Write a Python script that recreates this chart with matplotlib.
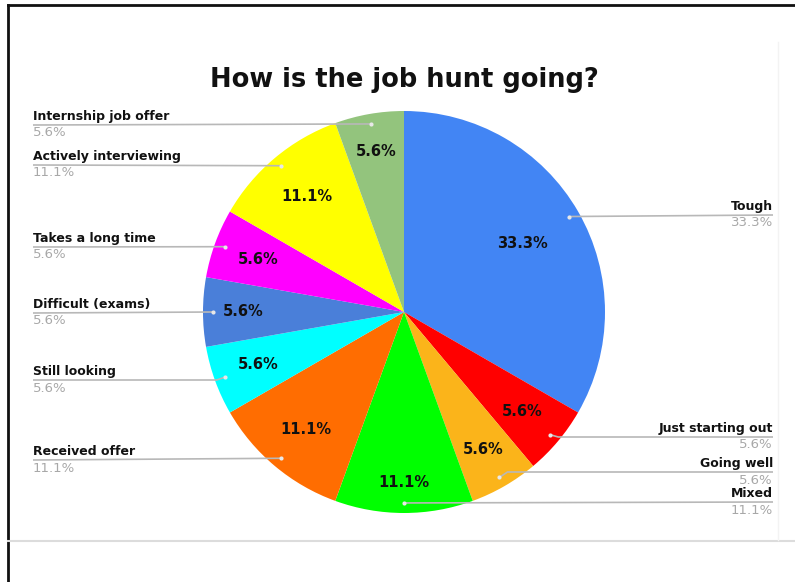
import numpy as np
import matplotlib
matplotlib.use("Agg")
import matplotlib.pyplot as plt
from matplotlib.lines import Line2D

W, H = 795, 582

# answers, in clockwise order from 12 o'clock
labels = ["Tough", "Just starting out", "Going well", "Mixed", "Received offer",
          "Still looking", "Difficult (exams)", "Takes a long time",
          "Actively interviewing", "Internship job offer"]
counts = [6, 1, 1, 2, 2, 1, 1, 1, 2, 1]
colors = ["#4285f4", "#ff0000", "#fbb41a", "#00ff00", "#ff6d01",
          "#00ffff", "#4a7fd9", "#ff00ff", "#ffff00", "#93c47d"]

# outside label layout: side and pixel row of the leader line
label_side = ["right"] * 4 + ["left"] * 6
label_line_y = [215, 437, 472, 502, 460, 380, 313, 247, 165, 125]
pct_dist = [0.68, 0.77, 0.79, 0.85, 0.76, 0.77, 0.80, 0.77, 0.75, 0.81]

cx, cy, r = 404, 312, 201
left_x, right_x = 33, 773


def Y(y):
    # pixel row (from top) -> data y
    return H - y


fig = plt.figure(figsize=(W / 100, H / 100), dpi=100)
ax = fig.add_axes([0, 0, 1, 1])

wedges, _ = ax.pie(counts, colors=colors, startangle=90, counterclock=False,
                   center=(cx, Y(cy)), radius=r,
                   wedgeprops=dict(linewidth=0))
ax.set_xlim(0, W)
ax.set_ylim(0, H)
ax.set_aspect("equal")
ax.axis("off")

total = sum(counts)
font = "DejaVu Sans"

for i, w in enumerate(wedges):
    mid = np.deg2rad((w.theta1 + w.theta2) / 2)
    pct = counts[i] / total * 100
    txt = f"{pct:.1f}%"

    # value inside the slice
    d = pct_dist[i] * r
    ax.text(cx + d * np.cos(mid), Y(cy) + d * np.sin(mid), txt,
            ha="center", va="center", fontsize=10.5, fontweight="bold",
            family=font, color="#111111")

    # leader anchor inside the slice
    ax_x = cx + 0.95 * r * np.cos(mid)
    ax_y = Y(cy) + 0.95 * r * np.sin(mid)
    ly = Y(label_line_y[i])
    bend = abs(ly - ax_y) > 2
    if label_side[i] == "right":
        xs = [ax_x, ax_x + 8, right_x] if bend else [ax_x, right_x]
        ys = [ax_y, ly, ly] if bend else [ax_y, ly]
        tx, ha = right_x, "right"
    else:
        xs = [left_x, ax_x - 8, ax_x] if bend else [left_x, ax_x]
        ys = [ly, ly, ax_y] if bend else [ly, ax_y]
        tx, ha = left_x, "left"
    ax.plot(xs, ys, color="#b8b8b8", lw=1.2, solid_capstyle="butt")
    ax.plot([ax_x], [ax_y], "o", ms=3, color="#e8e8e8", mec="none")

    ax.text(tx, ly + 2, labels[i], ha=ha, va="bottom", fontsize=9,
            fontweight="bold", family=font, color="#111111")
    ax.text(tx, ly - 1.5, txt, ha=ha, va="top", fontsize=9.5,
            family=font, color="#a8a8a8")

ax.text(cx, Y(80), "How is the job hunt going?", ha="center", va="center",
        fontsize=18.5, fontweight="bold", family=font, color="#111111")

# page frame
fig.add_artist(Line2D([8 / W, 1], [Y(5) / H, Y(5) / H], color="#111111", lw=2))
fig.add_artist(Line2D([8 / W, 8 / W], [0, Y(5) / H], color="#111111", lw=2))
fig.add_artist(Line2D([8 / W, 1], [Y(541) / H, Y(541) / H], color="#dcdcdc", lw=1.5))
fig.add_artist(Line2D([778 / W, 778 / W], [Y(540) / H, Y(42) / H], color="#f3f3f3", lw=1))

fig.savefig("out.png", dpi=100)
